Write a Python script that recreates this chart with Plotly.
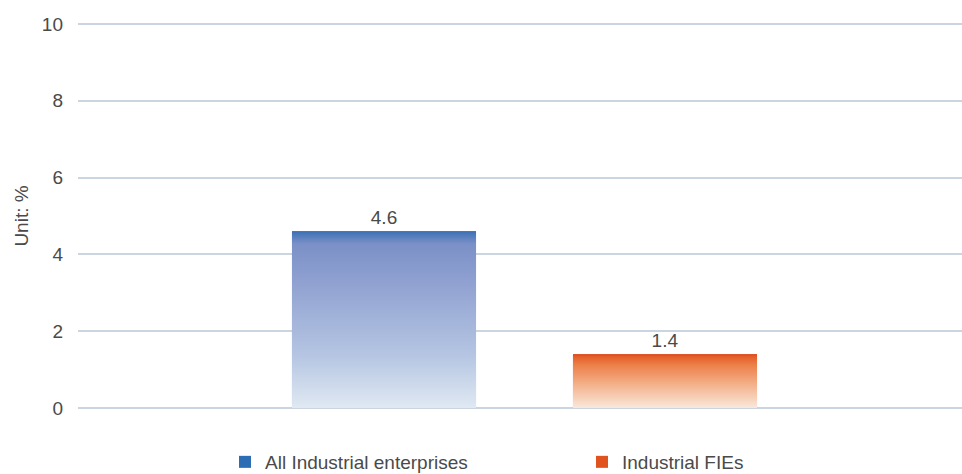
import plotly.graph_objects as go

# Growth rates by enterprise group (unit: %)
series_names = ["All Industrial enterprises", "Industrial FIEs"]
values = [4.6, 1.4]
value_labels = ["4.6", "1.4"]
y_ticks = [0, 2, 4, 6, 8, 10]

positions = [0, 1]
bar_width = 0.655
legend_colors = ["#2c6db4", "#e0531f"]
gradients = [
    [[0.0, "#e0e9f3"], [0.3, "#b5c5e2"], [0.7, "#91a2d2"], [0.93, "#7b90c7"], [1.0, "#3d70b5"]],
    [[0.0, "#f9e8dc"], [0.4, "#f4b691"], [0.8, "#ec8049"], [0.95, "#e4602c"], [1.0, "#dc461a"]],
]

FONT_SIZE = 19
TEXT_COLOR = "#4a4a4a"

fig = go.Figure()

for name, pos, val, lab, col in zip(series_names, positions, values, value_labels, legend_colors):
    fig.add_trace(go.Bar(
        x=[pos], y=[val], name=name, width=bar_width,
        marker=dict(color=col, line=dict(width=0)),
        text=[lab], textposition="outside",
        textfont=dict(size=FONT_SIZE, color=TEXT_COLOR),
        cliponaxis=False,
    ))

# gradient overlay for each bar, built from the same values
for pos, val, grad in zip(positions, values, gradients):
    x0, x1 = pos - bar_width / 2, pos + bar_width / 2
    fig.add_trace(go.Scatter(
        x=[x0, x1, x1, x0, x0], y=[0, 0, val, val, 0],
        mode="lines", line=dict(width=0), fill="toself",
        fillgradient=dict(type="vertical", colorscale=grad, start=0, stop=val),
        showlegend=False, hoverinfo="skip",
    ))

fig.update_layout(
    width=962, height=474,
    margin=dict(l=78, r=0, t=22, b=64),
    paper_bgcolor="white", plot_bgcolor="white",
    font=dict(family="Liberation Sans, Arial, sans-serif", size=FONT_SIZE, color=TEXT_COLOR),
    showlegend=True,
    legend=dict(
        orientation="h", xref="container", yref="container",
        x=225 / 962, y=(474 - 462) / 474, xanchor="left", yanchor="middle",
        font=dict(size=FONT_SIZE, color=TEXT_COLOR),
        entrywidth=312, entrywidthmode="pixels",
        traceorder="normal",
    ),
    xaxis=dict(range=[-1.089, 2.057], showticklabels=False, showgrid=False,
               zeroline=False, showline=False, ticks=""),
    yaxis=dict(range=[-0.05, 10.05], tickvals=y_ticks, showgrid=True,
               gridcolor="#cbd5df", gridwidth=1.5, zeroline=False,
               showline=False, ticks="", ticklabelstandoff=14,
               title=dict(text="Unit: %", font=dict(size=FONT_SIZE, color=TEXT_COLOR), standoff=8)),
)

fig.write_html("out.html")
